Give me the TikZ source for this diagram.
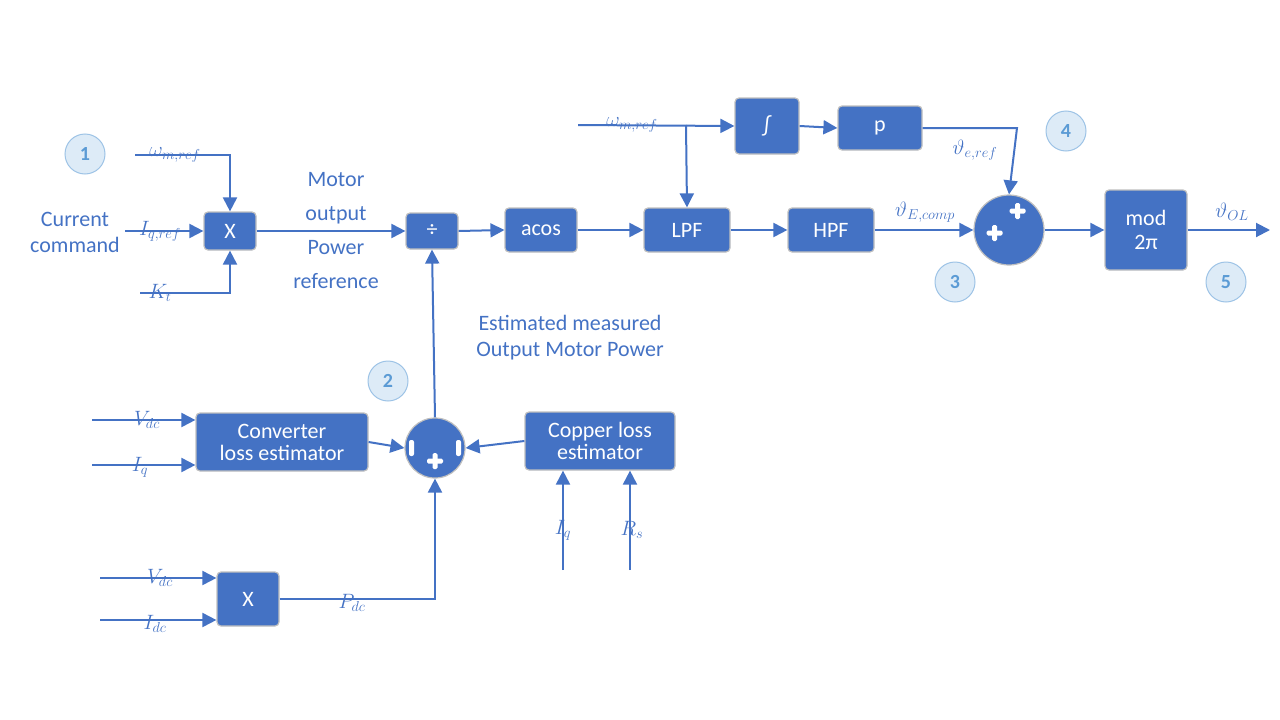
\documentclass[tikz,border=0pt]{standalone}
\usepackage{fontspec}
\setmainfont{Carlito}
\usetikzlibrary{arrows.meta}
\definecolor{bl}{HTML}{4472C4}
\definecolor{lbf}{HTML}{DDEBF7}
\definecolor{lbd}{HTML}{9DC3E6}
\definecolor{lbt}{HTML}{5B9BD5}
\begin{document}
\begin{tikzpicture}[x=1pt,y=-1pt,
 blk/.style={draw=black!25,line width=1.2pt,fill=bl,rounded corners=4pt,text=white,font=\fontsize{22}{24}\selectfont,align=center,inner sep=0pt},
 sum/.style={circle,draw=black!25,line width=1.2pt,fill=bl,inner sep=0pt},
 num/.style={circle,draw=lbd,fill=lbf,line width=1pt,minimum size=40pt,text=lbt,font=\bfseries\fontsize{20}{22}\selectfont},
 lab/.style={text=bl,font=\fontsize{22}{26}\selectfont,align=center},
 ln/.style={draw=bl,line width=2pt},
 ar/.style={ln,-{Triangle[length=14pt,width=14pt]}},
 plus/.style={fill=white,draw=none}]
\useasboundingbox (0,0) rectangle (1280,720);
\newcommand{\plusat}[1]{\fill[white,rounded corners=1.5pt] ($#1+(-2.5,-8)$) rectangle ($#1+(2.5,8)$); \fill[white,rounded corners=1.5pt] ($#1+(-8,-2.5)$) rectangle ($#1+(8,2.5)$);}
% numbers
\node[num] (n1) at (85,154) {1};
\node[num] (n2) at (388,381) {2};
\node[num] (n3) at (955,282) {3};
\node[num] (n4) at (1066,131) {4};
\node[num] (n5) at (1226,282) {5};
% blocks
\node[blk,minimum width=52pt,minimum height=38pt] (x1) at (230,231) {X};
\node[blk,minimum width=52pt,minimum height=36pt] (dv) at (432,231) {÷};
\node[blk,minimum width=72pt,minimum height=44pt] (ac) at (541,230) {acos};
\node[blk,minimum width=86pt,minimum height=44pt] (lpf) at (687,230) {LPF};
\node[blk,minimum width=86pt,minimum height=44pt] (hpf) at (831,230) {HPF};
\node[sum,minimum size=70pt] (s3) at (1009,230) {};
\node[blk,minimum width=82pt,minimum height=80pt] (md) at (1146,230) {mod\\2π};
\node[blk,minimum width=64pt,minimum height=56pt] (in) at (767,126) {∫};
\node[blk,minimum width=84pt,minimum height=44pt] (p) at (880,128) {p};
\node[sum,minimum size=60pt] (s2) at (435,448) {};
\node[blk,minimum width=172pt,minimum height=58pt] (cv) at (282,442) {Converter\\[-2pt]loss estimator};
\node[blk,minimum width=150pt,minimum height=58pt] (cu) at (600,441) {Copper loss\\[-2pt]estimator};
\node[blk,minimum width=62pt,minimum height=54pt] (x2) at (248,599) {X};
% coordinates
\coordinate (wa) at (135,155); \coordinate (wb) at (230,155);
\coordinate (ia) at (125,231);
\coordinate (ka) at (140,293); \coordinate (kb) at (230,293);
\coordinate (w2) at (578,125); \coordinate (jn) at (686,125);
\coordinate (pc) at (1017,128);
\coordinate (out) at (1270,230);
\coordinate (v1) at (92,420); \coordinate (i1) at (92,465);
\coordinate (iq) at (563,570); \coordinate (rs) at (630,570);
\coordinate (v2) at (100,578); \coordinate (i2) at (100,620);
\coordinate (pd) at (435,599);
% connectors
\draw[ar] (wa) -- (wb) -- (x1.north);
\draw[ar] (ia) -- (x1.west);
\draw[ar] (ka) -- (kb) -- (x1.south);
\draw[ar] (x1.east) -- (dv.west);
\draw[ar] (dv.east) -- (ac.west);
\draw[ar] (ac.east) -- (lpf.west);
\draw[ar] (lpf.east) -- (hpf.west);
\draw[ar] (hpf.east) -- (s3.west);
\draw[ar] (s3.east) -- (md.west);
\draw[ar] (md.east) -- (out);
\draw[ar] (w2) -- (in.west);
\draw[ar] (jn) -- (lpf.north);
\draw[ar] (in.east) -- (p.west);
\draw[ar] (p.east) -- (pc) -- (s3.north);
\draw[ar] (s2.north) -- (dv.south);
\draw[ar] (cv.east) -- (s2.west);
\draw[ar] (cu.west) -- (s2.east);
\draw[ar] (v1) -- (v1-|cv.west);
\draw[ar] (i1) -- (i1-|cv.west);
\draw[ar] (iq) -- (iq|-cu.south);
\draw[ar] (rs) -- (rs|-cu.south);
\draw[ar] (v2) -- (v2-|x2.west);
\draw[ar] (i2) -- (i2-|x2.west);
\draw[ar] (x2.east) -- (pd) -- (s2.south);
% signs
\fill[white,rounded corners=1.5pt] (1015,203) rectangle (1020,219); \fill[white,rounded corners=1.5pt] (1009.5,208.5) rectangle (1025.5,213.5);
\fill[white,rounded corners=1.5pt] (992,225) rectangle (997,241); \fill[white,rounded corners=1.5pt] (986.5,230.5) rectangle (1002.5,235.5);
\fill[white,rounded corners=1.5pt] (432.5,453) rectangle (437.5,469); \fill[white,rounded corners=1.5pt] (427,458.5) rectangle (443,463.5);
\fill[white,rounded corners=2pt] (409,440) rectangle (414,456);
\fill[white,rounded corners=2pt] (456,440) rectangle (461,456);
% labels
\node[lab] (cc) at (75,232) {Current\\command};
\node[lab] at (175,155) {$\omega_{m,ref}$};
\node[lab] at (160,231) {$I_{q,ref}$};
\node[lab] at (160,293) {$K_t$};
\node[lab,font=\fontsize{22}{34}\selectfont] at (336,231) {Motor\\output\\Power\\reference};
\node[lab] at (632,125) {$\omega_{m,ref}$};
\node[lab] at (975,150) {$\vartheta_{e,ref}$};
\node[lab] at (925,212) {$\vartheta_{E,comp}$};
\node[lab] at (1232,212) {$\vartheta_{OL}$};
\node[lab] at (570,338) {Estimated measured\\Output Motor Power};
\node[lab] at (147,420) {$V_{dc}$};
\node[lab] at (140,467) {$I_q$};
\node[lab] at (563,530) {$I_q$};
\node[lab] at (632,530) {$R_s$};
\node[lab] at (160,578) {$V_{dc}$};
\node[lab] at (155,624) {$I_{dc}$};
\node[lab] at (352,603) {$P_{dc}$};
\end{tikzpicture}
\end{document}
